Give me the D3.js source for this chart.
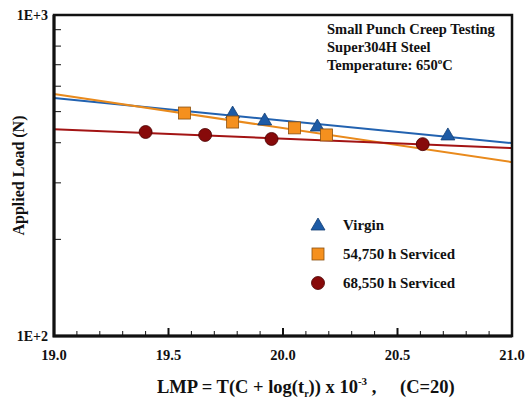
<!DOCTYPE html>
<html>
<head>
<meta charset="utf-8">
<script src="https://cdnjs.cloudflare.com/ajax/libs/d3/7.8.5/d3.min.js"></script>
<style>
  body { margin: 0; background: #fff; }
  svg text { font-family: "Liberation Serif", "Times New Roman", serif; font-weight: bold; fill: #111; white-space: pre; }
</style>
</head>
<body>
<div id="chart"></div>
<script>
// data
var seriesNames = ["Virgin", "54,750 h Serviced", "68,550 h Serviced"];
var virginLMP = [19.78, 19.92, 20.15, 20.72];
var virginLoad = [495, 471, 451, 423];
var s54750LMP = [19.57, 19.78, 20.05, 20.19];
var s54750Load = [495, 464, 445, 423];
var s68550LMP = [19.40, 19.66, 19.95, 20.61];
var s68550Load = [432, 423, 411, 396];
// fitted lines, load at LMP 19.0 and 21.0
var fitLMP = [19.0, 21.0];
var virginFit = [551, 399];
var s54750Fit = [567, 348];
var s68550Fit = [441, 385];
var xTicks = [19.0, 19.5, 20.0, 20.5, 21.0];
var yTickLabels = ["1E+2", "1E+3"];
var infoLines = ["Small Punch Creep Testing", "Super304H Steel", "Temperature: 650"];

var W = 525, H = 399;
var margin = { top: 15, right: 13, bottom: 63, left: 54 };
var width = W - margin.left - margin.right,
    height = H - margin.top - margin.bottom;

var svg = d3.select("#chart").append("svg")
    .attr("width", W).attr("height", H);
var g = svg.append("g")
    .attr("transform", "translate(" + margin.left + "," + margin.top + ")");

var x = d3.scaleLinear().domain([19, 21]).range([0, width]);
var y = d3.scaleLog().domain([100, 1000]).range([height, 0]);

var colors = ["#1d5ba6", "#f5901e", "#870a0a"];
var lineColors = ["#2262b0", "#e98a1c", "#a31414"];

// minor ticks, inward
var minorX = d3.range(19.1, 21, 0.1).filter(function(d) { return Math.abs(d * 2 - Math.round(d * 2)) > 0.01; });
g.selectAll(".xminor").data(minorX).enter().append("line")
    .attr("x1", function(d) { return x(d); }).attr("x2", function(d) { return x(d); })
    .attr("y1", height).attr("y2", height - 5)
    .attr("stroke", "#111").attr("stroke-width", 1);
g.selectAll(".xmajor").data(xTicks).enter().append("line")
    .attr("x1", function(d) { return x(d); }).attr("x2", function(d) { return x(d); })
    .attr("y1", height).attr("y2", height - 8)
    .attr("stroke", "#111").attr("stroke-width", 2);
var minorY = d3.range(200, 1000, 100);
g.selectAll(".yminor").data(minorY).enter().append("line")
    .attr("x1", 0).attr("x2", 7)
    .attr("y1", function(d) { return y(d); }).attr("y2", function(d) { return y(d); })
    .attr("stroke", "#111").attr("stroke-width", 1);

// tick labels
g.selectAll(".xlab").data(xTicks).enter().append("text")
    .attr("x", function(d) { return x(d); })
    .attr("y", height + 24)
    .attr("text-anchor", "middle")
    .style("font-size", "14.5px")
    .text(function(d) { return d3.format(".1f")(d); });
g.selectAll(".ylab").data([100, 1000]).enter().append("text")
    .attr("x", -6)
    .attr("y", function(d) { return y(d) + 5; })
    .attr("text-anchor", "end")
    .style("font-size", "14px")
    .text(function(d, i) { return yTickLabels[i]; });

// fit lines
var fits = [virginFit, s54750Fit, s68550Fit];
fits.forEach(function(f, i) {
  g.append("line")
    .attr("x1", x(fitLMP[0])).attr("y1", y(f[0]))
    .attr("x2", x(fitLMP[1])).attr("y2", y(f[1]))
    .attr("stroke", lineColors[i]).attr("stroke-width", 2);
});

function drawMarker(sel, kind, cx, cy) {
  if (kind === 0) {
    sel.append("path")
      .attr("d", "M" + cx + "," + (cy - 7) + "L" + (cx + 7) + "," + (cy + 5) + "L" + (cx - 7) + "," + (cy + 5) + "Z")
      .attr("fill", colors[0]).attr("stroke", "#123e73").attr("stroke-width", 0.8);
  } else if (kind === 1) {
    sel.append("rect")
      .attr("x", cx - 6).attr("y", cy - 6).attr("width", 12).attr("height", 12)
      .attr("fill", colors[1]).attr("stroke", "#8a5010").attr("stroke-width", 0.8);
  } else {
    sel.append("circle")
      .attr("cx", cx).attr("cy", cy).attr("r", 6.5)
      .attr("fill", colors[2]).attr("stroke", "#4a0000").attr("stroke-width", 0.8);
  }
}

var pts = [[virginLMP, virginLoad], [s54750LMP, s54750Load], [s68550LMP, s68550Load]];
pts.forEach(function(p, i) {
  p[0].forEach(function(v, j) {
    drawMarker(g, i, x(v), y(p[1][j]));
  });
});

// frame
g.append("rect").attr("x", 0).attr("y", 0).attr("width", width).attr("height", height)
    .attr("fill", "none").attr("stroke", "#111").attr("stroke-width", 2.5);
g.append("path")
    .attr("d", "M0,0V" + height + "H" + width)
    .attr("fill", "none").attr("stroke", "#111").attr("stroke-width", 3);

// info text
var info = g.append("text").style("font-size", "14.5px");
infoLines.forEach(function(t, i) {
  info.append("tspan").attr("x", 273).attr("y", 19 + i * 18).text(t);
});
info.append("tspan").attr("dy", -6).style("font-size", "9px").text("o");
info.append("tspan").attr("dy", 6).text("C");

// legend
seriesNames.forEach(function(n, i) {
  var ly = 210 + i * 29;
  drawMarker(g, i, 264, ly);
  g.append("text").attr("x", 289).attr("y", ly + 5)
    .style("font-size", "15px").text(n);
});

// axis titles
svg.append("text")
    .attr("transform", "translate(24," + (margin.top + height / 2) + ") rotate(-90)")
    .attr("text-anchor", "middle")
    .style("font-size", "16px")
    .text("Applied Load (N)");

var xt = svg.append("text")
    .attr("x", 157).attr("y", 393)
    .style("font-size", "18.5px");
xt.append("tspan").text("LMP = T(C + log(t");
xt.append("tspan").attr("dy", 4).style("font-size", "10px").text("r");
xt.append("tspan").attr("dy", -4).text(")) x 10");
xt.append("tspan").attr("dy", -8).style("font-size", "11px").text("-3");
xt.append("tspan").attr("dy", 8).text(" ,");
svg.append("text")
    .attr("x", 400).attr("y", 393)
    .style("font-size", "18.5px")
    .text("(C=20)");
</script>
</body>
</html>
